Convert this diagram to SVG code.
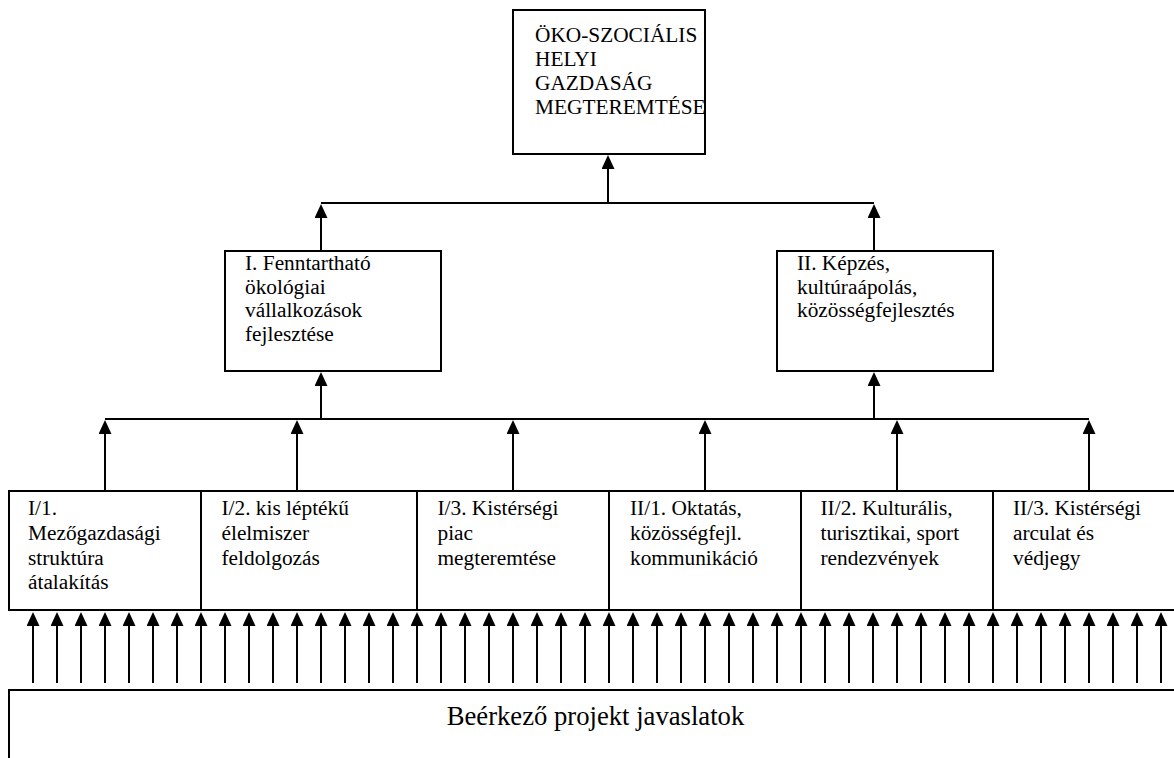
<svg xmlns="http://www.w3.org/2000/svg" width="1174" height="758" viewBox="0 0 1174 758">
<style>
.box{fill:#fff;stroke:#000;stroke-width:2}
.ln{fill:none;stroke:#000;stroke-width:2}
.t{font-family:"Liberation Serif","Times New Roman",serif;font-size:21.33px;fill:#000}
.tb{font-family:"Liberation Serif","Times New Roman",serif;font-size:26.67px;fill:#000}
</style>
<defs>
<marker id="ah" markerUnits="userSpaceOnUse" markerWidth="14" markerHeight="13" refX="4" refY="6.5" orient="auto">
<path d="M0,0 L14,6.5 L0,13 z" fill="#000"/>
</marker>
</defs>
<rect width="1174" height="758" fill="#fff"/>

<g id="connectors">
<path class="ln" d="M608,203 V165" marker-end="url(#ah)"/>
<path class="ln" d="M321,203 H874"/>
<path class="ln" d="M321,251 V214" marker-end="url(#ah)"/>
<path class="ln" d="M874,251 V214" marker-end="url(#ah)"/>
<path class="ln" d="M105,419 H1089"/>
<path class="ln" d="M321,419 V382" marker-end="url(#ah)"/>
<path class="ln" d="M874,419 V382" marker-end="url(#ah)"/>
<path class="ln" d="M105,491 V430" marker-end="url(#ah)"/>
<path class="ln" d="M297,491 V430" marker-end="url(#ah)"/>
<path class="ln" d="M513,491 V430" marker-end="url(#ah)"/>
<path class="ln" d="M705,491 V430" marker-end="url(#ah)"/>
<path class="ln" d="M897,491 V430" marker-end="url(#ah)"/>
<path class="ln" d="M1089,491 V430" marker-end="url(#ah)"/>
<g id="inputs">
<path class="ln" d="M33,683 V622" marker-end="url(#ah)"/>
<path class="ln" d="M57,683 V622" marker-end="url(#ah)"/>
<path class="ln" d="M81,683 V622" marker-end="url(#ah)"/>
<path class="ln" d="M105,683 V622" marker-end="url(#ah)"/>
<path class="ln" d="M129,683 V622" marker-end="url(#ah)"/>
<path class="ln" d="M153,683 V622" marker-end="url(#ah)"/>
<path class="ln" d="M177,683 V622" marker-end="url(#ah)"/>
<path class="ln" d="M201,683 V622" marker-end="url(#ah)"/>
<path class="ln" d="M225,683 V622" marker-end="url(#ah)"/>
<path class="ln" d="M249,683 V622" marker-end="url(#ah)"/>
<path class="ln" d="M273,683 V622" marker-end="url(#ah)"/>
<path class="ln" d="M297,683 V622" marker-end="url(#ah)"/>
<path class="ln" d="M321,683 V622" marker-end="url(#ah)"/>
<path class="ln" d="M345,683 V622" marker-end="url(#ah)"/>
<path class="ln" d="M369,683 V622" marker-end="url(#ah)"/>
<path class="ln" d="M393,683 V622" marker-end="url(#ah)"/>
<path class="ln" d="M417,683 V622" marker-end="url(#ah)"/>
<path class="ln" d="M441,683 V622" marker-end="url(#ah)"/>
<path class="ln" d="M465,683 V622" marker-end="url(#ah)"/>
<path class="ln" d="M489,683 V622" marker-end="url(#ah)"/>
<path class="ln" d="M513,683 V622" marker-end="url(#ah)"/>
<path class="ln" d="M537,683 V622" marker-end="url(#ah)"/>
<path class="ln" d="M561,683 V622" marker-end="url(#ah)"/>
<path class="ln" d="M585,683 V622" marker-end="url(#ah)"/>
<path class="ln" d="M609,683 V622" marker-end="url(#ah)"/>
<path class="ln" d="M633,683 V622" marker-end="url(#ah)"/>
<path class="ln" d="M657,683 V622" marker-end="url(#ah)"/>
<path class="ln" d="M681,683 V622" marker-end="url(#ah)"/>
<path class="ln" d="M705,683 V622" marker-end="url(#ah)"/>
<path class="ln" d="M729,683 V622" marker-end="url(#ah)"/>
<path class="ln" d="M753,683 V622" marker-end="url(#ah)"/>
<path class="ln" d="M777,683 V622" marker-end="url(#ah)"/>
<path class="ln" d="M801,683 V622" marker-end="url(#ah)"/>
<path class="ln" d="M825,683 V622" marker-end="url(#ah)"/>
<path class="ln" d="M849,683 V622" marker-end="url(#ah)"/>
<path class="ln" d="M873,683 V622" marker-end="url(#ah)"/>
<path class="ln" d="M897,683 V622" marker-end="url(#ah)"/>
<path class="ln" d="M921,683 V622" marker-end="url(#ah)"/>
<path class="ln" d="M945,683 V622" marker-end="url(#ah)"/>
<path class="ln" d="M969,683 V622" marker-end="url(#ah)"/>
<path class="ln" d="M993,683 V622" marker-end="url(#ah)"/>
<path class="ln" d="M1017,683 V622" marker-end="url(#ah)"/>
<path class="ln" d="M1041,683 V622" marker-end="url(#ah)"/>
<path class="ln" d="M1065,683 V622" marker-end="url(#ah)"/>
<path class="ln" d="M1089,683 V622" marker-end="url(#ah)"/>
<path class="ln" d="M1113,683 V622" marker-end="url(#ah)"/>
<path class="ln" d="M1137,683 V622" marker-end="url(#ah)"/>
<path class="ln" d="M1161,683 V622" marker-end="url(#ah)"/>
</g>
</g>

<g id="goal">
<rect class="box" x="513" y="10" width="192" height="144"/>
<text class="t"><tspan x="535" y="42">ÖKO-SZOCIÁLIS</tspan><tspan x="535" y="66">HELYI</tspan><tspan x="535" y="90">GAZDASÁG</tspan><tspan x="535" y="114">MEGTEREMTÉSE</tspan></text>
</g>

<g id="pillar-1">
<rect class="box" x="225" y="251" width="216" height="120"/>
<text class="t"><tspan x="245" y="270">I. Fenntartható</tspan><tspan x="245" y="293.5">ökológiai</tspan><tspan x="245" y="317">vállalkozások</tspan><tspan x="245" y="340.5">fejlesztése</tspan></text>
</g>

<g id="pillar-2">
<rect class="box" x="777" y="251" width="216" height="120"/>
<text class="t"><tspan x="797" y="270">II. Képzés,</tspan><tspan x="797" y="293.5">kultúraápolás,</tspan><tspan x="797" y="317">közösségfejlesztés</tspan></text>
</g>

<g id="row">
<rect class="box" x="9" y="491" width="1180" height="119"/>
<path class="ln" d="M201,491 V610 M417,491 V610 M609,491 V610 M801,491 V610 M993,491 V610"/>
</g>
<g id="m-1-1"><text class="t"><tspan x="28" y="515">I/1.</tspan><tspan x="28" y="540">Mezőgazdasági</tspan><tspan x="28" y="564.5">struktúra</tspan><tspan x="28" y="589">átalakítás</tspan></text></g>
<g id="m-1-2"><text class="t"><tspan x="221.5" y="515">I/2. kis léptékű</tspan><tspan x="221.5" y="540">élelmiszer</tspan><tspan x="221.5" y="564.5">feldolgozás</tspan></text></g>
<g id="m-1-3"><text class="t"><tspan x="437.5" y="515">I/3. Kistérségi</tspan><tspan x="437.5" y="540">piac</tspan><tspan x="437.5" y="564.5">megteremtése</tspan></text></g>
<g id="m-2-1"><text class="t"><tspan x="630" y="515">II/1. Oktatás,</tspan><tspan x="630" y="540">közösségfejl.</tspan><tspan x="630" y="564.5">kommunikáció</tspan></text></g>
<g id="m-2-2"><text class="t"><tspan x="820.5" y="515">II/2. Kulturális,</tspan><tspan x="820.5" y="540">turisztikai, sport</tspan><tspan x="820.5" y="564.5">rendezvények</tspan></text></g>
<g id="m-2-3"><text class="t"><tspan x="1013" y="515">II/3. Kistérségi</tspan><tspan x="1013" y="540">arculat és</tspan><tspan x="1013" y="564.5">védjegy</tspan></text></g>

<g id="proposals">
<rect class="box" x="9" y="690" width="1180" height="100"/>
<text class="tb" x="595.5" y="725" text-anchor="middle">Beérkező projekt javaslatok</text>
</g>
</svg>
